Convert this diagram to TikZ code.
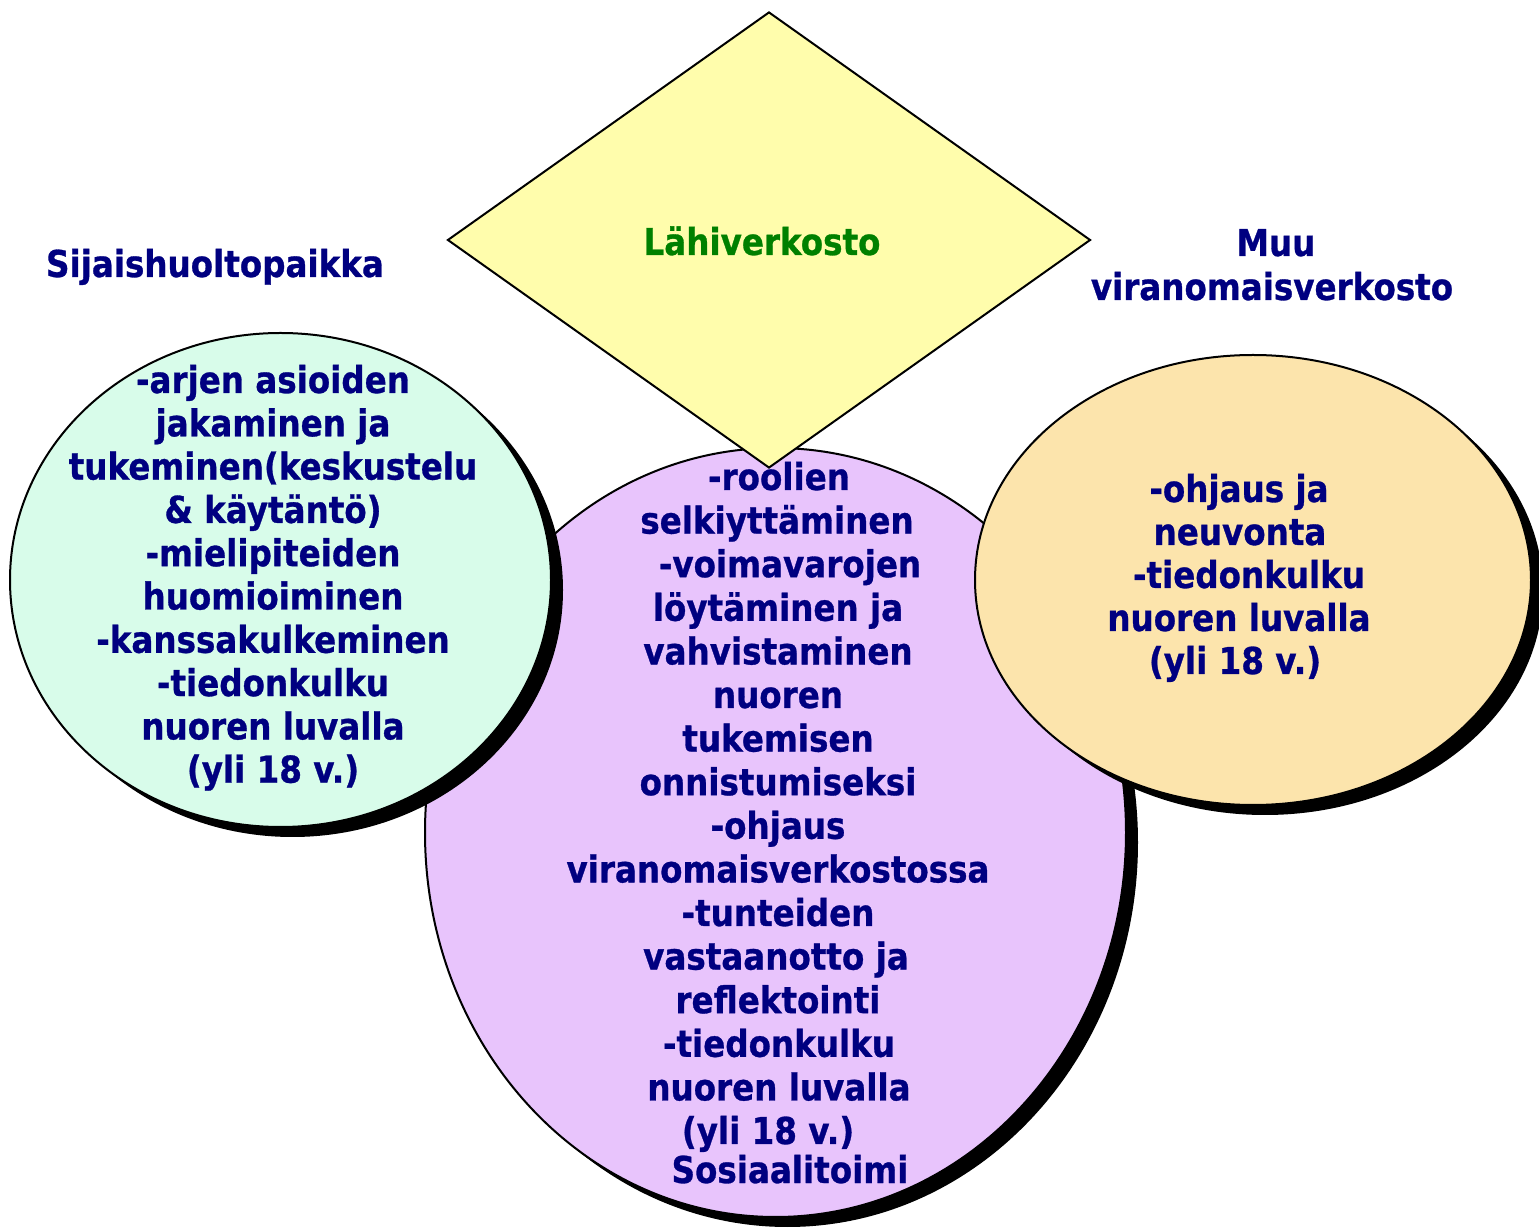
\documentclass[tikz,border=0pt]{standalone}
\usepackage{fontspec}
\usetikzlibrary{shapes.geometric,shadows}
\newfontfamily\tah[FakeStretch=0.88,FakeBold=0.8]{DejaVu Sans}
\definecolor{navyT}{RGB}{0,0,128}
\definecolor{greenT}{RGB}{0,128,0}
\definecolor{mintF}{RGB}{216,252,234}
\definecolor{lilacF}{RGB}{232,196,252}
\definecolor{sandF}{RGB}{252,228,172}
\definecolor{lemonF}{RGB}{255,253,172}
\tikzset{
  bubble/.style={ellipse, draw=black, line width=1pt, inner sep=0pt,
    drop shadow={shadow xshift=6pt, shadow yshift=-5pt, fill=black, opacity=1}},
  rhomb/.style={diamond, draw=black, line width=1pt, fill=lemonF, inner sep=0pt,
    minimum width=321.5pt, minimum height=228pt},
  txt/.style={anchor=base, inner sep=0pt, text=navyT,
    font=\tah\bfseries\fontsize{18.5pt}{21.8pt}\selectfont}
}
\begin{document}
\begin{tikzpicture}[x=0.5pt,y=-0.5pt]
\fill[white] (0,0) rectangle (1539,1229);
\useasboundingbox (0,0) rectangle (1539,1229);
% shapes
\node[bubble, fill=lilacF, minimum width=350.5pt, minimum height=384.5pt] (sos) at (775.5,832.5) {};
\node[bubble, fill=mintF, minimum width=270.5pt, minimum height=247pt] (sij) at (280.5,580) {};
\node[bubble, fill=sandF, minimum width=278pt, minimum height=225pt] (muu) at (1253,580) {};
\node[rhomb] (lahi) at (769,240) {};
% titles
\node[txt] (tSij) at (215,277) {Sijaishuoltopaikka};
\node[txt] (tMuu1) at (1276,256) {Muu};
\node[txt] (tMuu2) at (1272,300) {viranomaisverkosto};
\node[txt, text=greenT] (tLahi) at (762,255) {Lähiverkosto};
% left bubble text
\foreach \t [count=\i from 0] in {-arjen asioiden, jakaminen ja, tukeminen(keskustelu,
  \& käytäntö), -mielipiteiden, huomioiminen, -kanssakulkeminen, -tiedonkulku,
  nuoren luvalla, (yli 18 v.)}
  \node[txt] (s\i) at (273,{393+43.3*\i}) {\t};
% centre bubble text
\foreach \x/\y/\t [count=\i] in {779/490/-roolien, 777/533.6/selkiyttäminen,
  790/577.2/-voimavarojen, 778/620.8/löytäminen ja, 778/664.4/vahvistaminen,
  778/708/nuoren, 778/751.6/tukemisen, 778/795.2/onnistumiseksi,
  778/838.8/-ohjaus, 778/882.4/viranomaisverkostossa, 778/926/-tunteiden,
  776/969.6/vastaanotto ja, 778/1013.2/reflektointi, 779/1056.8/-tiedonkulku,
  779/1100.4/nuoren luvalla, 768/1144/(yli 18 v.), 790/1183/Sosiaalitoimi}
  \node[txt] (c\i) at (\x,\y) {\t};
% right bubble text
\foreach \x/\y/\t [count=\i] in {1239/502/-ohjaus ja, 1240/545/neuvonta,
  1249/588/-tiedonkulku, 1239/631/nuoren luvalla, 1235/674/(yli 18 v.)}
  \node[txt] (m\i) at (\x,\y) {\t};
\end{tikzpicture}
\end{document}
